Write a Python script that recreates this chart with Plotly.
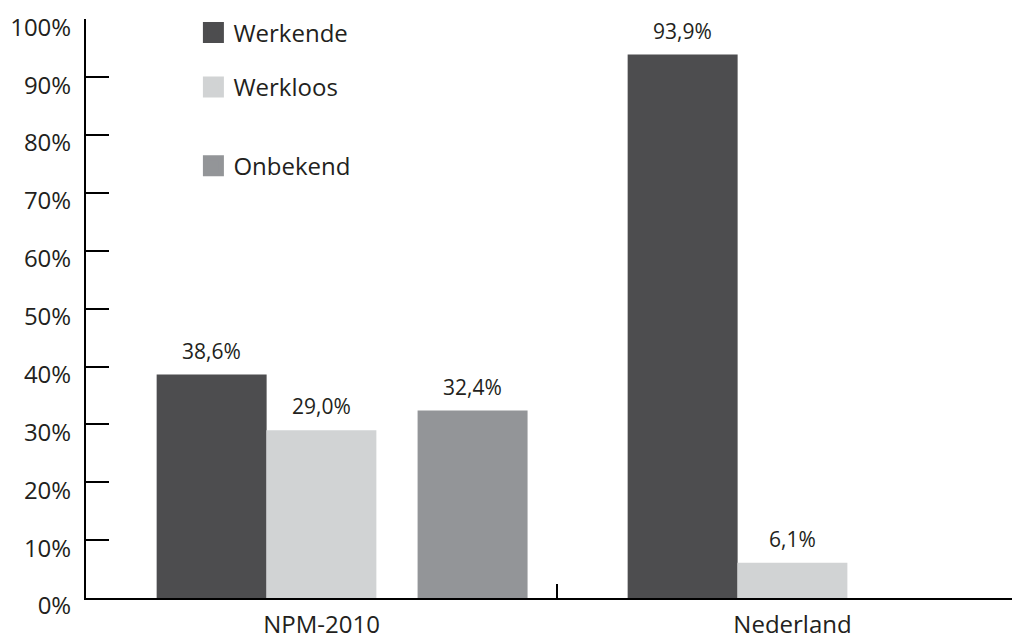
import plotly.graph_objects as go

# data
categories = ["NPM-2010", "Nederland"]
series_names = ["Werkende", "Werkloos", "Onbekend"]
werkende = [38.6, 93.9]
werkloos = [29.0, 6.1]
onbekend = [32.4, None]
y_ticks = [0, 10, 20, 30, 40, 50, 60, 70, 80, 90, 100]

COLORS = {"Werkende": "#4d4d4f", "Werkloos": "#d1d3d4", "Onbekend": "#939598"}
BAR_WIDTH = 0.2335
OFFSETS = {"Werkende": -0.35, "Werkloos": -0.117, "Onbekend": 0.204}
LEGEND_Y = {"Werkende": 0.976, "Werkloos": 0.882, "Onbekend": 0.746}
FONT = "Open Sans"
TEXT_COLOR = "#231f20"

fig = go.Figure()
legend_ids = ["legend", "legend2", "legend3"]
for name, values, leg in zip(series_names, [werkende, werkloos, onbekend], legend_ids):
    fig.add_trace(
        go.Bar(
            x=categories,
            y=values,
            name=name,
            width=BAR_WIDTH,
            offset=OFFSETS[name],
            marker_color=COLORS[name],
            marker_line_width=0,
            showlegend=False,
        )
    )
    # legend-only entry so the swatch can be bigger
    fig.add_trace(
        go.Scatter(
            x=[None],
            y=[None],
            mode="markers",
            name=name,
            marker=dict(
                symbol="square",
                size=22,
                color=COLORS[name],
                line=dict(width=5, color=COLORS[name]),
            ),
            legend=leg,
        )
    )
    # value labels above bars
    for j, v in enumerate(values):
        if v is None:
            continue
        fig.add_annotation(
            x=j + OFFSETS[name] + BAR_WIDTH / 2,
            y=v,
            yshift=24,
            text=f"{v:.1f}".replace(".", ",") + "%",
            showarrow=False,
            font=dict(family=FONT, size=21, color=TEXT_COLOR),
        )

legend_style = dict(
    x=0.115,
    xanchor="left",
    yanchor="middle",
    bgcolor="rgba(0,0,0,0)",
    font=dict(family=FONT, size=24, color=TEXT_COLOR),
)

# page body has an 8px margin, so the figure is a bit smaller than the window
fig.update_layout(
    width=1012,
    height=634,
    margin=dict(l=78, r=0, t=11, b=44),
    paper_bgcolor="white",
    plot_bgcolor="white",
    barmode="overlay",
    font=dict(family=FONT, size=24, color=TEXT_COLOR),
    legend=dict(y=LEGEND_Y["Werkende"], **legend_style),
    legend2=dict(y=LEGEND_Y["Werkloos"], **legend_style),
    legend3=dict(y=LEGEND_Y["Onbekend"], **legend_style),
)

fig.update_xaxes(
    type="category",
    range=[-0.5, 1.483],
    automargin=False,
    showline=True,
    linecolor="black",
    linewidth=2,
    ticks="inside",
    tickson="boundaries",
    ticklen=14,
    tickwidth=2,
    tickcolor="black",
    showgrid=False,
    tickfont=dict(family=FONT, size=24, color=TEXT_COLOR),
    ticklabelstandoff=4,
)
fig.update_yaxes(
    range=[0, 100.05],
    automargin=False,
    tickvals=y_ticks,
    ticktext=[f"{v}%" for v in y_ticks],
    showline=True,
    linecolor="black",
    linewidth=2,
    ticks="inside",
    ticklen=23,
    tickwidth=2,
    tickcolor="black",
    showgrid=False,
    zeroline=False,
    ticklabelshift=8,
    ticklabelstandoff=8,
    tickfont=dict(family=FONT, size=24, color=TEXT_COLOR),
)

fig.write_html("out.html")
